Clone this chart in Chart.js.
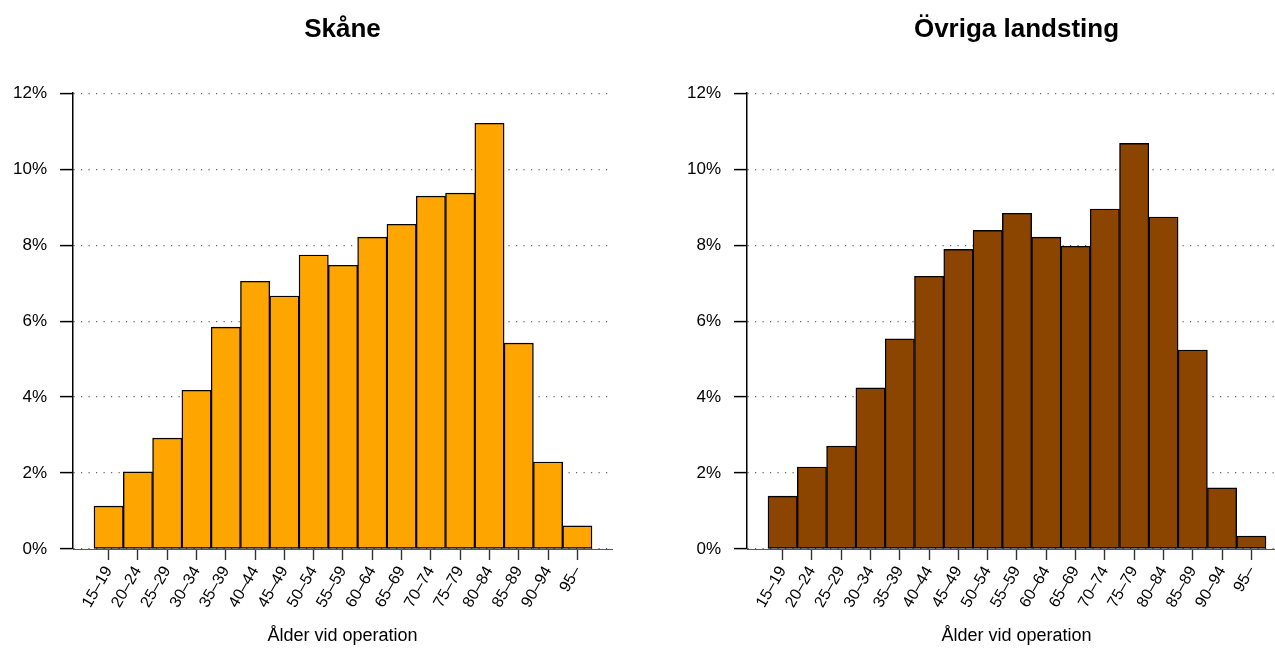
<!DOCTYPE html>
<html>
<head>
<meta charset="utf-8">
<script src="https://cdn.jsdelivr.net/npm/chart.js@4.4.0/dist/chart.umd.min.js"></script>
<style>
  html, body { margin: 0; padding: 0; background: #fff; overflow: hidden; width: 1275px; height: 648px; }
  canvas { position: absolute; top: 0; }
</style>
</head>
<body>
<canvas id="skaneChart" width="637" height="648" style="left:0"></canvas>
<canvas id="ovrigaChart" width="637" height="648" style="left:674px"></canvas>
<script>
const ageGroups = ['15–19', '20–24', '25–29', '30–34', '35–39', '40–44', '45–49', '50–54', '55–59',
  '60–64', '65–69', '70–74', '75–79', '80–84', '85–89', '90–94', '95–'];

// andel (%) per åldersgrupp
const skaneShare = [1.13, 2.03, 2.92, 4.18, 5.84, 7.05, 6.66, 7.74, 7.47, 8.21, 8.55, 9.29, 9.37, 11.21, 5.42, 2.29, 0.61];
const ovrigaShare = [1.39, 2.16, 2.71, 4.24, 5.53, 7.18, 7.89, 8.39, 8.84, 8.21, 7.97, 8.95, 10.68, 8.74, 5.24, 1.61, 0.34];

const yTicks = [0, 2, 4, 6, 8, 10, 12];

const FONT = '"Liberation Sans", Arial, Helvetica, sans-serif';

function histogram(canvasId, title, values, color) {
  return new Chart(document.getElementById(canvasId), {
    type: 'bar',
    data: {
      datasets: [{
        data: values.map((v, i) => ({ x: i, y: v })),
        backgroundColor: color,
        borderColor: '#000',
        borderWidth: 1.4,
        borderSkipped: false,
        barPercentage: 1,
        categoryPercentage: 1
      }]
    },
    options: {
      responsive: false,
      animation: false,
      layout: { padding: { left: 0, right: 25, top: 0, bottom: 0 } },
      plugins: {
        legend: { display: false },
        tooltip: { enabled: false },
        title: {
          display: true,
          text: title,
          fullSize: false,
          color: '#000',
          font: { family: FONT, size: 26, weight: 'bold' },
          padding: { top: 14, bottom: 48 }
        }
      },
      scales: {
        x: {
          type: 'linear',
          offset: false,
          min: -1.217,
          max: 17.183,
          afterBuildTicks: (scale) => { scale.ticks = ageGroups.map((_, i) => ({ value: i })); },
          afterFit: (scale) => { scale.height = 99; },
          ticks: {
            autoSkip: false,
            minRotation: 60,
            maxRotation: 60,
            padding: 3,
            color: '#000',
            font: { family: FONT, size: 16 },
            callback: (value) => ageGroups[value]
          },
          grid: { offset: false, drawOnChartArea: false, drawTicks: true, tickLength: 11, tickColor: '#333', tickWidth: 1.4 },
          border: { display: true, color: '#555', width: 1 },
          title: {
            display: true,
            text: 'Ålder vid operation',
            color: '#000',
            font: { family: FONT, size: 18 },
            padding: { top: 0, bottom: 1 }
          }
        },
        y: {
          min: 0,
          max: 12,
          afterBuildTicks: (scale) => { scale.ticks = yTicks.map((v) => ({ value: v })); },
          afterFit: (scale) => { scale.width = 73; },
          ticks: {
            padding: 13,
            color: '#000',
            font: { family: FONT, size: 17 },
            callback: (value) => `${value}%`
          },
          grid: {
            color: '#666',
            lineWidth: 1.2,
            borderDash: [1.2, 6.3],
            tickLength: 13,
            tickColor: '#000',
            tickWidth: 1.5,
            tickBorderDash: []
          },
          border: { display: true, color: '#000', width: 1.5, dash: [1.2, 6.3] }
        }
      }
    }
  });
}

histogram('skaneChart', 'Skåne', skaneShare, '#FFA500');
histogram('ovrigaChart', 'Övriga landsting', ovrigaShare, '#8B4500');
</script>
</body>
</html>
